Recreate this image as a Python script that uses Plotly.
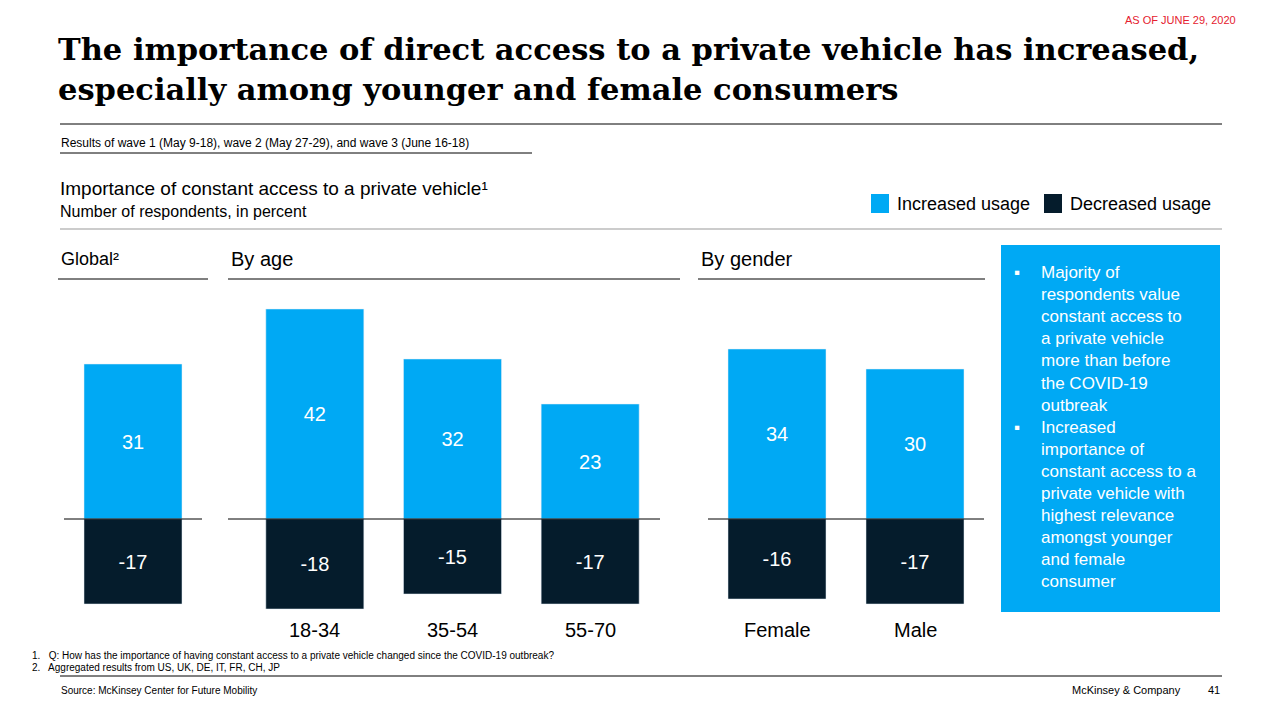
import plotly.graph_objects as go

BLUE = "#00A9F4"
DARK = "#051C2C"
FONT = "Liberation Sans, Arial, sans-serif"

global_cats = ["Global"]
global_inc = [31]
global_dec = [-17]
age_cats = ["18-34", "35-54", "55-70"]
age_inc = [42, 32, 23]
age_dec = [-18, -15, -17]
gender_cats = ["Female", "Male"]
gender_inc = [34, 30]
gender_dec = [-16, -17]

W, H = 1280, 720
OFF = 8
def px(x): return (x - OFF) / W
def py(y): return 1 - (y - OFF) / H

fig = go.Figure()
groups = [(global_cats, global_inc, global_dec, "x", 64, 202),
          (age_cats, age_inc, age_dec, "x2", 246, 659),
          (gender_cats, gender_inc, gender_dec, "x3", 708, 984)]
for cats, inc, dec, xa, x0, x1 in groups:
    w = 98 / ((x1 - x0) / len(cats))
    for vals, col in [(inc, BLUE), (dec, DARK)]:
        fig.add_trace(go.Bar(x=cats, y=vals, xaxis=xa, yaxis="y", marker_color=col,
                             width=w, text=[str(v) for v in vals], textposition="inside",
                             insidetextanchor="middle", textangle=0,
                             textfont=dict(color="white", size=20, family=FONT),
                             showlegend=False, hoverinfo="skip"))

ydom = [py(644), py(294)]
ax_common = dict(showgrid=False, zeroline=False, showticklabels=False, ticks="", fixedrange=True)
fig.update_layout(
    width=W, height=H, margin=dict(l=0, r=0, t=0, b=0),
    paper_bgcolor="white", plot_bgcolor="rgba(0,0,0,0)", barmode="relative",
    font=dict(family=FONT, color="black"),
    yaxis=dict(domain=ydom, range=[-25, 45], **ax_common),
    xaxis=dict(domain=[px(64), px(202)], anchor="y", **ax_common),
    xaxis2=dict(domain=[px(246), px(659)], anchor="y", **ax_common),
    xaxis3=dict(domain=[px(708), px(984)], anchor="y", **ax_common),
)

shapes = []
def hline(x0, x1, y, color="black", w=1):
    shapes.append(dict(type="line", xref="paper", yref="paper", x0=px(x0), x1=px(x1),
                       y0=py(y), y1=py(y), line=dict(color=color, width=w)))
for a, b in [(64, 202), (228, 660), (708, 984)]:
    hline(a, b, 519)
hline(60, 1222, 124)
hline(60, 532, 153)
hline(60, 1222, 229, color="#999999")
hline(58, 208, 279)
hline(228, 680, 279)
hline(698, 985, 279)
hline(60, 1222, 676)
shapes.append(dict(type="rect", xref="paper", yref="paper", x0=px(1001), x1=px(1220),
                   y0=py(612), y1=py(245), fillcolor=BLUE, line=dict(width=0), layer="below"))
for x0 in [871, 1044]:
    shapes.append(dict(type="rect", xref="paper", yref="paper", x0=px(x0), x1=px(x0 + 18),
                       y0=py(213), y1=py(194), fillcolor=BLUE if x0 == 871 else DARK, line=dict(width=0)))
fig.update_layout(shapes=shapes)

ann = []
def text(x, y, s, size=14, color="black", anchor="left", family=FONT, yanchor="middle"):
    ann.append(dict(x=px(x), y=py(y), xref="paper", yref="paper", text=s, showarrow=False,
                    xanchor=anchor, yanchor=yanchor, align="left",
                    font=dict(size=size, color=color, family=family)))

text(1238, 20, "AS OF JUNE 29, 2020", 11, "#E5202E", "right")
text(56, 69, "<b>The importance of direct access to a private vehicle has increased,<br>especially among younger and female consumers</b>",
     30.5, "black", family="DejaVu Serif, serif")
text(59, 143, "Results of wave 1 (May 9-18), wave 2 (May 27-29), and wave 3 (June 16-18)", 12)
text(58, 188, "Importance of constant access to a private vehicle¹", 19)
text(58, 211, "Number of respondents, in percent", 16)
text(895, 204, "Increased usage", 18)
text(1068, 204, "Decreased usage", 18)
text(59, 259, "Global²", 18)
text(229, 259, "By age", 20)
text(699, 259, "By gender", 20)
for cats, xa in [(age_cats, "x2"), (gender_cats, "x3")]:
    for c in cats:
        ann.append(dict(x=c, y=py(630), xref=xa, yref="paper", text=c, showarrow=False,
                        font=dict(size=20, family=FONT), xanchor="center", yanchor="middle"))
text(30, 655, "1.   Q: How has the importance of having constant access to a private vehicle changed since the COVID-19 outbreak?", 10)
text(30, 667, "2.   Aggregated results from US, UK, DE, IT, FR, CH, JP", 10)
text(59, 690, "Source: McKinsey Center for Future Mobility", 10)
text(1183, 690, "McKinsey & Company", 11, anchor="right")
text(1222, 690, "41", 11, anchor="right")
text(1012, 261, "▪<br><br><br><br><br><br><br>▪", 17, "white", yanchor="top")
text(1039, 261, "Majority of<br>respondents value<br>constant access to<br>a private vehicle<br>more than before<br>the COVID-19<br>outbreak<br>Increased<br>importance of<br>constant access to a<br>private vehicle with<br>highest relevance<br>amongst younger<br>and female<br>consumer",
     17, "white", yanchor="top")
fig.update_layout(annotations=ann)
fig.write_html("out.html")
